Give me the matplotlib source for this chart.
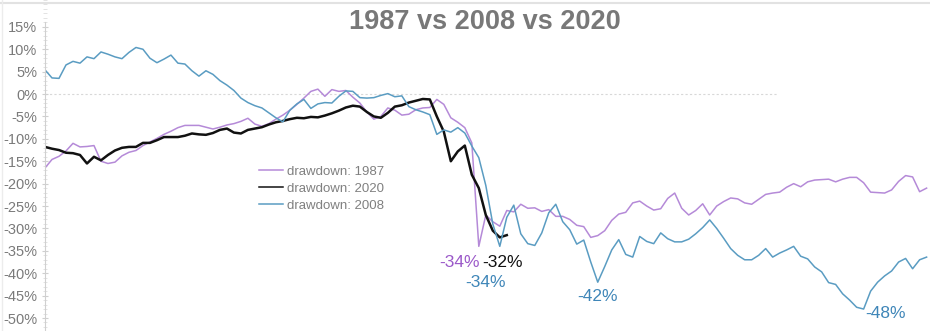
import numpy as np
import matplotlib.pyplot as plt
from matplotlib.ticker import MultipleLocator, FuncFormatter

# drawdown from prior peak, %, sampled every 2 trading days
dd_2008 = [5.4, 3.6, 3.5, 6.5, 7.3, 6.9, 8.3, 7.9, 9.4, 8.9,
           8.3, 7.9, 9.3, 10.4, 10.0, 8.0, 7.0, 7.8, 8.7, 6.9,
           6.7, 5.2, 4.0, 5.2, 4.4, 3.0, 2.0, 0.8, -0.9, -1.9,
           -2.6, -3.1, -4.2, -5.3, -6.2, -3.6, -2.2, -1.2, -3.2, -2.2,
           -1.9, -2.0, -0.5, 0.7, 0.6, -0.8, -0.9, -0.8, -0.3, 0.1,
           -0.6, -0.4, -2.8, -3.5, -4.0, -4.6, -9.0, -8.0, -8.5, -7.5,
           -8.7, -11.6, -14.2, -20.4, -29.0, -34.0, -27.5, -24.8, -31.2, -33.4,
           -33.8, -31.0, -26.5, -24.6, -28.5, -30.3, -33.5, -32.6, -37.5, -42.0,
           -38.5, -34.8, -32.5, -35.8, -36.4, -31.8, -32.9, -33.4, -31.0, -32.3,
           -33.0, -33.0, -32.4, -31.2, -29.8, -28.1, -30.0, -32.2, -34.5, -36.0,
           -37.0, -37.0, -36.0, -34.5, -36.4, -35.5, -34.8, -34.0, -36.2, -36.8,
           -38.6, -39.7, -42.1, -42.5, -44.6, -46.0, -47.6, -48.0, -44.0, -42.0,
           -40.6, -39.5, -37.5, -36.7, -39.0, -37.0, -36.4]

dd_1987 = [-16.5, -14.6, -13.9, -12.7, -11.0, -11.8, -11.7, -11.5, -15.0, -15.5,
           -15.2, -13.8, -13.0, -12.6, -11.5, -10.7, -9.9, -9.0, -8.3, -7.5,
           -7.0, -7.0, -7.0, -7.4, -7.8, -7.4, -6.9, -6.6, -6.1, -5.4,
           -6.7, -7.2, -6.6, -5.6, -4.7, -3.6, -2.3, -0.9, 0.6, 1.1,
           -0.5, 1.0, 0.6, 0.8, -0.7, -2.0, -4.0, -5.6, -5.0, -3.1,
           -3.6, -4.7, -4.5, -3.5, -3.1, -3.0, -1.2, -2.3, -5.3, -6.3,
           -7.5, -10.9, -34.0, -27.0, -28.5, -29.5, -26.0, -26.3, -24.6, -25.5,
           -25.4, -26.2, -25.8, -27.3, -27.3, -28.0, -29.3, -29.6, -32.0, -31.6,
           -30.5, -28.2, -26.8, -26.4, -24.3, -23.9, -25.0, -25.9, -25.6, -23.3,
           -22.1, -25.5, -27.0, -26.0, -24.5, -27.0, -25.0, -24.0, -23.2, -23.4,
           -24.3, -24.6, -23.5, -22.4, -22.1, -21.9, -20.8, -20.0, -20.7, -19.6,
           -19.2, -19.1, -19.0, -19.6, -19.0, -18.6, -18.6, -19.8, -21.9, -22.0,
           -22.1, -21.4, -19.5, -18.2, -18.5, -21.8, -21.0]

dd_2020 = [-11.8, -12.2, -12.5, -13.1, -13.2, -13.6, -15.5, -14.0, -14.8, -13.6,
           -12.6, -12.0, -11.8, -11.8, -10.9, -10.9, -10.3, -9.6, -9.6, -9.6,
           -9.3, -8.8, -9.0, -9.1, -8.7, -8.0, -7.7, -8.6, -8.8, -8.0,
           -7.7, -7.4, -6.8, -6.3, -6.0, -5.6, -5.3, -5.4, -5.1, -5.2,
           -4.8, -4.3, -3.7, -3.0, -2.6, -2.8, -4.0, -5.0, -5.3, -4.2,
           -2.8, -2.5, -1.9, -1.5, -1.1, -1.2, -5.0, -8.4, -15.0, -12.8,
           -11.5, -18.0, -21.0, -27.0, -30.5, -32.0, -31.5]

t_2008 = np.arange(len(dd_2008))
t_1987 = np.arange(len(dd_1987))
t_2020 = np.arange(len(dd_2020))

c87 = "#b58ad8"
c20 = "#111111"
c08 = "#5a9cc2"

fig = plt.figure(figsize=(9.3, 3.31), dpi=100)
ax = fig.add_axes([45 / 930, 0, 883 / 930, 1])

ax.axhline(0, color="#d8d8d8", lw=0.8, ls=(0, (2, 2)), xmax=0.83, zorder=0)

ax.plot(t_1987, dd_1987, color=c87, lw=1.1, label="drawdown: 1987")
ax.plot(t_2020, dd_2020, color=c20, lw=1.8, label="drawdown: 2020")
ax.plot(t_2008, dd_2008, color=c08, lw=1.1, label="drawdown: 2008")

ax.set_xlim(0, 126.2)
ax.set_ylim(-52.9, 21.0)

for s in ["top", "right", "bottom"]:
    ax.spines[s].set_visible(False)
ax.spines["left"].set_color("#d0d0d0")
ax.spines["left"].set_bounds(-53, 16)
ax.set_xticks([])
ax.yaxis.set_minor_locator(MultipleLocator(1))
ax.set_yticks(np.arange(-50, 16, 5))
ax.yaxis.set_major_formatter(FuncFormatter(lambda v, p: f"{v:.0f}%"))
ax.tick_params(axis="y", which="major", length=5, color="#cfcfcf",
               labelcolor="#7a7a7a", labelsize=10.5, direction="inout", pad=3)
ax.tick_params(axis="y", which="minor", length=3, color="#dedede", direction="inout")
for lab in ax.get_yticklabels():
    lab.set_family("Liberation Sans")

ax.text(62.8, 16.0, "1987 vs 2008 vs 2020", ha="center", va="center",
        fontsize=19.5, fontweight="bold", color="#787878", family="Liberation Sans")

leg = ax.legend(loc="upper left", bbox_to_anchor=(0.229, 0.535), frameon=False,
                handlelength=1.8, handletextpad=0.3, labelspacing=0.35,
                prop={"family": "Liberation Sans", "size": 9.5})
for txt in leg.get_texts():
    txt.set_color("#808080")
for h in leg.get_lines():
    h.set_linewidth(1.1)

# trough labels, read from each series
lbl = dict(fontsize=12.5, family="Liberation Sans", ha="center", va="center")
ax.text(59.3, min(dd_1987) - 3.6, f"{min(dd_1987):.0f}%", color="#9b59c9", **lbl)
ax.text(65.4, min(dd_2020) - 5.5, f"{min(dd_2020):.0f}%", color="#111111", **lbl)
ax.text(62.9, min(dd_2008[:70]) - 8.1, f"{min(dd_2008[:70]):.0f}%", color="#3f86b8", **lbl)
ax.text(79.0, min(dd_2008[70:90]) - 3.2, f"{min(dd_2008[70:90]):.0f}%", color="#3f86b8", **lbl)
ax.text(120.1, min(dd_2008) - 1.0, f"{min(dd_2008):.0f}%", color="#3f86b8", **lbl)

# thin frame along the top and left edge of the image
fig.add_artist(plt.Line2D([0, 1], [0.991, 0.991], color="#e2e2e2", lw=1.5,
                          transform=fig.transFigure))
fig.add_artist(plt.Line2D([0.002, 0.002], [0, 1], color="#ececec", lw=1.0,
                          transform=fig.transFigure))

fig.savefig("out.png", dpi=100)
